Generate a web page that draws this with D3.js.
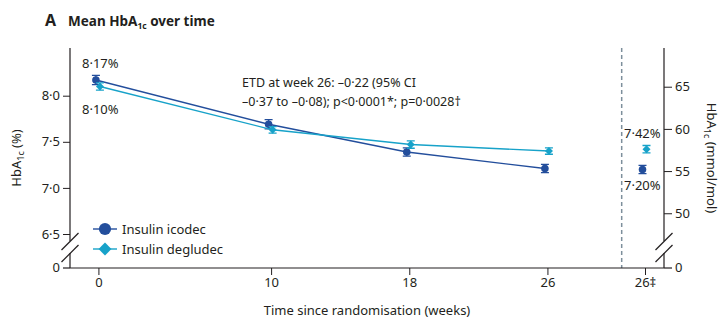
<!DOCTYPE html>
<html>
<head>
<meta charset="utf-8">
<script src="https://cdn.jsdelivr.net/npm/d3@7"></script>
<style>
  body { margin: 0; background: #fff; }
  svg text { font-family: "Noto Sans", sans-serif; fill: #231f20; }
</style>
</head>
<body>
<div id="chartArea"></div>
<script>
// weeks shown on the x axis (last one is the 26‡ end-of-treatment column)
var weeks = [0, 10, 18, 26];
var tickLabels = ['0', '10', '18', '26', '26‡'];
var endWeekPos = 31.65;   // where the 26‡ column sits on the week scale
var dividerPos = 30.3;    // dashed separator

var icodec = [8.17, 7.69, 7.39, 7.21];
var icodecSE = [0.05, 0.05, 0.045, 0.045];
var degludec = [8.10, 7.63, 7.47, 7.40];
var degludecSE = [0.04, 0.035, 0.04, 0.035];

var icodecEnd = 7.20, icodecEndSE = 0.045;
var degludecEnd = 7.42, degludecEndSE = 0.04;

var leftTicks = [6.5, 7.0, 7.5, 8.0];
var rightTicks = [50, 55, 60, 65];

var w = 725, h = 323;
var colIco = '#234e9c', colDeg = '#17a2c9';

var svg = d3.select('#chartArea').append('svg')
    .attr('width', w)
    .attr('height', h);

var x = d3.scaleLinear().domain([-1.645, 32.75]).range([70, 664]);
var y = d3.scaleLinear().domain([6.5, 8.5]).range([234, 49.6]);
var zeroY = 268;

// % -> mmol/mol (IFCC)
function toMmol(p) { return (p - 2.15) * 10.929; }
var yR = d3.scaleLinear().domain([toMmol(6.5), toMmol(8.5)]).range([234, 49.6]);

function fmt(d) { return d3.format('.1f')(d).replace('.', '·'); }

var axisCol = '#231f20';

// title
svg.append('text').attr('x', 45).attr('y', 26)
    .style('font-weight', 700).style('font-size', '16px').text('A');
var t2 = svg.append('text').attr('x', 68).attr('y', 26)
    .style('font-weight', 700).style('font-size', '13.5px');
t2.append('tspan').text('Mean HbA');
t2.append('tspan').attr('dy', 3).style('font-size', '8.5px').text('1c');
t2.append('tspan').attr('dy', -3).text(' over time');

// dashed divider
svg.append('line')
    .attr('x1', x(dividerPos)).attr('x2', x(dividerPos))
    .attr('y1', 48).attr('y2', zeroY)
    .attr('stroke', '#7d8f9c').attr('stroke-width', 1.5)
    .attr('stroke-dasharray', '4,3');

// left axis
var gl = svg.append('g').attr('transform', 'translate(70,0)')
    .call(d3.axisLeft(y).tickValues(leftTicks).tickFormat(fmt).tickSize(7).tickPadding(3));
gl.select('.domain').remove();
gl.selectAll('text').style('font-size', '13px');
gl.selectAll('line').attr('stroke', axisCol);

// right axis
var gr = svg.append('g').attr('transform', 'translate(664,0)')
    .call(d3.axisRight(yR).tickValues(rightTicks).tickSize(8).tickPadding(3));
gr.select('.domain').remove();
gr.selectAll('text').style('font-size', '13px');
gr.selectAll('line').attr('stroke', axisCol);

// broken axis lines
[70, 664].forEach(function (ax) {
    svg.append('line').attr('x1', ax).attr('x2', ax).attr('y1', 48).attr('y2', 241)
        .attr('stroke', axisCol).attr('stroke-width', 1.2);
    svg.append('line').attr('x1', ax).attr('x2', ax).attr('y1', 253).attr('y2', zeroY)
        .attr('stroke', axisCol).attr('stroke-width', 1.2);
    [0, 12].forEach(function (off) {
        svg.append('line')
            .attr('x1', ax - 8.5).attr('y1', 250 + off)
            .attr('x2', ax + 8.5).attr('y2', 233 + off)
            .attr('stroke', axisCol).attr('stroke-width', 1.2);
    });
});

// zero ticks
svg.append('line').attr('x1', 63).attr('x2', 70).attr('y1', zeroY).attr('y2', zeroY)
    .attr('stroke', axisCol).attr('stroke-width', 1.2);
svg.append('text').attr('x', 60).attr('y', zeroY).attr('dy', '0.32em')
    .attr('text-anchor', 'end').style('font-size', '13px').text('0');
svg.append('line').attr('x1', 664).attr('x2', 672).attr('y1', zeroY).attr('y2', zeroY)
    .attr('stroke', axisCol).attr('stroke-width', 1.2);
svg.append('text').attr('x', 675).attr('y', zeroY).attr('dy', '0.32em')
    .style('font-size', '13px').text('0');

// x axis
var xTickPos = weeks.concat([endWeekPos]);
var gx = svg.append('g').attr('transform', 'translate(0,' + zeroY + ')')
    .call(d3.axisBottom(x).tickValues(xTickPos)
        .tickFormat(function (d, i) { return tickLabels[i]; })
        .tickSize(7).tickPadding(3));
gx.select('.domain').attr('d', 'M70,0H664').attr('stroke', axisCol).attr('stroke-width', 1.2);
gx.selectAll('text').style('font-size', '13px');
gx.selectAll('line').attr('stroke', axisCol);

svg.append('text').attr('x', 367).attr('y', 315).attr('text-anchor', 'middle')
    .style('font-size', '13px').text('Time since randomisation (weeks)');

// y labels
var yl = svg.append('text').attr('transform', 'translate(21,158) rotate(-90)')
    .attr('text-anchor', 'middle').style('font-size', '13px');
yl.append('tspan').text('HbA');
yl.append('tspan').attr('dy', 3).style('font-size', '9px').text('1c');
yl.append('tspan').attr('dy', -3).text(' (%)');

var yr = svg.append('text').attr('transform', 'translate(707,158) rotate(90)')
    .attr('text-anchor', 'middle').style('font-size', '13px');
yr.append('tspan').text('HbA');
yr.append('tspan').attr('dy', 3).style('font-size', '9px').text('1c');
yr.append('tspan').attr('dy', -3).text(' (mmol/mol)');

// series
var series = [
    { name: 'Insulin icodec', vals: icodec, se: icodecSE, end: icodecEnd, endSE: icodecEndSE, col: colIco, dx: -2.5, shape: d3.symbolCircle, size: 45, rot: 0 },
    { name: 'Insulin degludec', vals: degludec, se: degludecSE, end: degludecEnd, endSE: degludecEndSE, col: colDeg, dx: 1.5, shape: d3.symbolSquare, size: 32, rot: 45 }
];

var line = d3.line();

series.forEach(function (s) {
    var pts = weeks.map(function (wk, i) { return { px: x(wk) + s.dx, v: s.vals[i], se: s.se[i] }; });
    svg.append('path')
        .attr('d', line(pts.map(function (p) { return [p.px, y(p.v)]; })))
        .attr('fill', 'none').attr('stroke', s.col).attr('stroke-width', 1.4);
    pts.push({ px: x(endWeekPos) + s.dx, v: s.end, se: s.endSE });

    var g = svg.append('g');
    g.selectAll('path.eb').data(pts).enter().append('path').attr('class', 'eb')
        .attr('d', function (p) {
            var y1 = y(p.v + p.se), y2 = y(p.v - p.se);
            return 'M' + (p.px - 4) + ',' + y1 + 'H' + (p.px + 4) +
                'M' + p.px + ',' + y1 + 'V' + y2 +
                'M' + (p.px - 4) + ',' + y2 + 'H' + (p.px + 4);
        })
        .attr('fill', 'none').attr('stroke', s.col).attr('stroke-width', 1.3);
    g.selectAll('path.pt').data(pts).enter().append('path').attr('class', 'pt')
        .attr('transform', function (p) { return 'translate(' + p.px + ',' + y(p.v) + ') rotate(' + s.rot + ')'; })
        .attr('d', d3.symbol().type(s.shape).size(s.size))
        .attr('fill', s.col);
});

// value labels
function label(txt, xx, yy) {
    svg.append('text').attr('x', xx).attr('y', yy).attr('dy', '0.35em')
        .style('font-size', '13px').text(txt);
}
label('8·17%', 82, 63);
label('8·10%', 82, 109);
label('7·42%', 624, 133);
label('7·20%', 624, 185);

// ETD note
svg.append('text').attr('x', 242).attr('y', 83).attr('dy', '0.35em')
    .style('font-size', '12.5px').text('ETD at week 26: –0·22 (95% CI');
svg.append('text').attr('x', 242).attr('y', 102).attr('dy', '0.35em')
    .style('font-size', '12.5px').text('–0·37 to –0·08); p<0·0001*; p=0·0028†');

// legend
series.forEach(function (s, i) {
    var ly = 229 + i * 20;
    svg.append('line').attr('x1', 93).attr('x2', 117).attr('y1', ly).attr('y2', ly)
        .attr('stroke', s.col).attr('stroke-width', 1.4);
    svg.append('path').attr('transform', 'translate(105,' + ly + ') rotate(' + s.rot + ')')
        .attr('d', d3.symbol().type(s.shape).size(s.size * 2.6)).attr('fill', s.col);
    svg.append('text').attr('x', 122).attr('y', ly).attr('dy', '0.35em')
        .style('font-size', '13px').text(s.name);
});
</script>
</body>
</html>
